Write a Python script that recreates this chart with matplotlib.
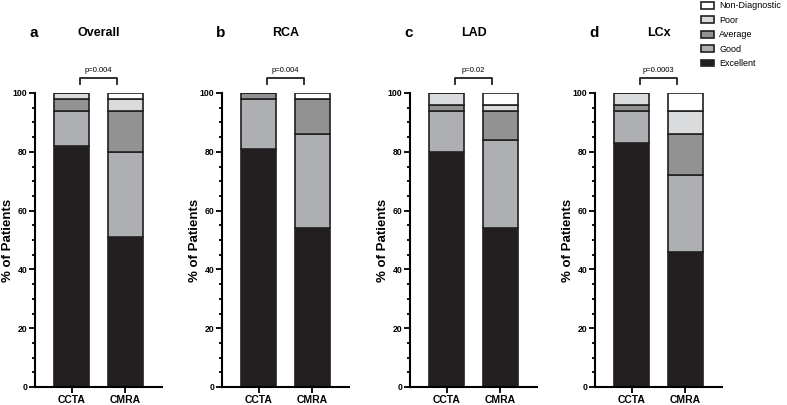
import matplotlib
matplotlib.use("Agg")
import matplotlib.pyplot as plt
from matplotlib.patches import Patch
from matplotlib.ticker import MultipleLocator

plt.rcParams['font.family'] = ['Liberation Sans', 'DejaVu Sans']

# data (% of patients), stacked bottom -> top
modalities = ['CCTA', 'CMRA']
grades = ['Excellent', 'Good', 'Average', 'Poor', 'Non-Diagnostic']
panels = ['Overall', 'RCA', 'LAD', 'LCx']
letters = ['a', 'b', 'c', 'd']
pvalues = ['p=0.004', 'p=0.004', 'p=0.02', 'p=0.0003']

# per panel: [CCTA, CMRA] for each grade
excellent = [[82, 51], [81, 54], [80, 54], [83, 46]]
good = [[12, 29], [17, 32], [14, 30], [11, 26]]
average = [[4, 14], [2, 12], [2, 10], [2, 14]]
poor = [[2, 4], [0, 0], [4, 2], [4, 8]]
nondiag = [[0, 2], [0, 2], [0, 4], [0, 6]]

colors = ['#231f20', '#aeafb2', '#929293', '#dadbdc', '#ffffff']
edge = '#231f20'

fig = plt.figure(figsize=(7.87, 4.05), dpi=100)
lefts = [35, 222, 410, 595]

for i, name in enumerate(panels):
    ax = fig.add_axes([lefts[i] / 787, 18 / 405, 127 / 787, 294 / 405])
    series = [excellent[i], good[i], average[i], poor[i], nondiag[i]]
    bottom = [0, 0]
    for vals, c in zip(series, colors):
        ax.bar([0, 1], vals, width=0.65, bottom=bottom, color=c,
               edgecolor=edge, linewidth=1.2, zorder=2)
        bottom = [b + v for b, v in zip(bottom, vals)]

    ax.set_xlim(-0.68, 1.68)
    ax.set_ylim(0, 100)
    ax.yaxis.set_major_locator(MultipleLocator(20))
    ax.yaxis.set_minor_locator(MultipleLocator(5))
    ax.set_xticks([0, 1])
    ax.set_xticklabels(modalities, fontsize=7.5, fontweight='bold')
    for lab in ax.get_yticklabels():
        lab.set_fontsize(6.2)
        lab.set_fontweight('bold')
    ax.tick_params(axis='both', which='major', length=4, width=1.3, pad=1.5)
    ax.tick_params(axis='y', which='minor', length=2.5, width=1.3)
    for s in ['top', 'right']:
        ax.spines[s].set_visible(False)
    for s in ['left', 'bottom']:
        ax.spines[s].set_linewidth(1.5)
    ax.set_ylabel('% of Patients', fontsize=9.5, fontweight='bold')
    ax.yaxis.set_label_coords(-0.165, 0.5)

    # significance bracket
    ax.plot([0.16, 0.16, 0.84, 0.84], [103, 105, 105, 103], color=edge,
            lw=1.3, clip_on=False)
    ax.text(0.5, 106.5, pvalues[i], ha='center', va='bottom', fontsize=5.5)

    ax.text(0.5, 120.5, name, ha='center', va='center', fontsize=9,
            fontweight='bold')
    ax.text(-0.7, 120.5, letters[i], ha='center', va='center', fontsize=11,
            fontweight='bold')

handles = [Patch(facecolor=c, edgecolor=edge, linewidth=1.2)
           for c in colors][::-1]
fig.legend(handles, grades[::-1], loc='upper left',
           bbox_to_anchor=(695 / 787, 1.012), frameon=False, fontsize=6.5,
           handlelength=1.4, handleheight=0.8, handletextpad=0.6,
           labelspacing=0.6, borderpad=0.2)

fig.savefig('out.png', dpi=100)
